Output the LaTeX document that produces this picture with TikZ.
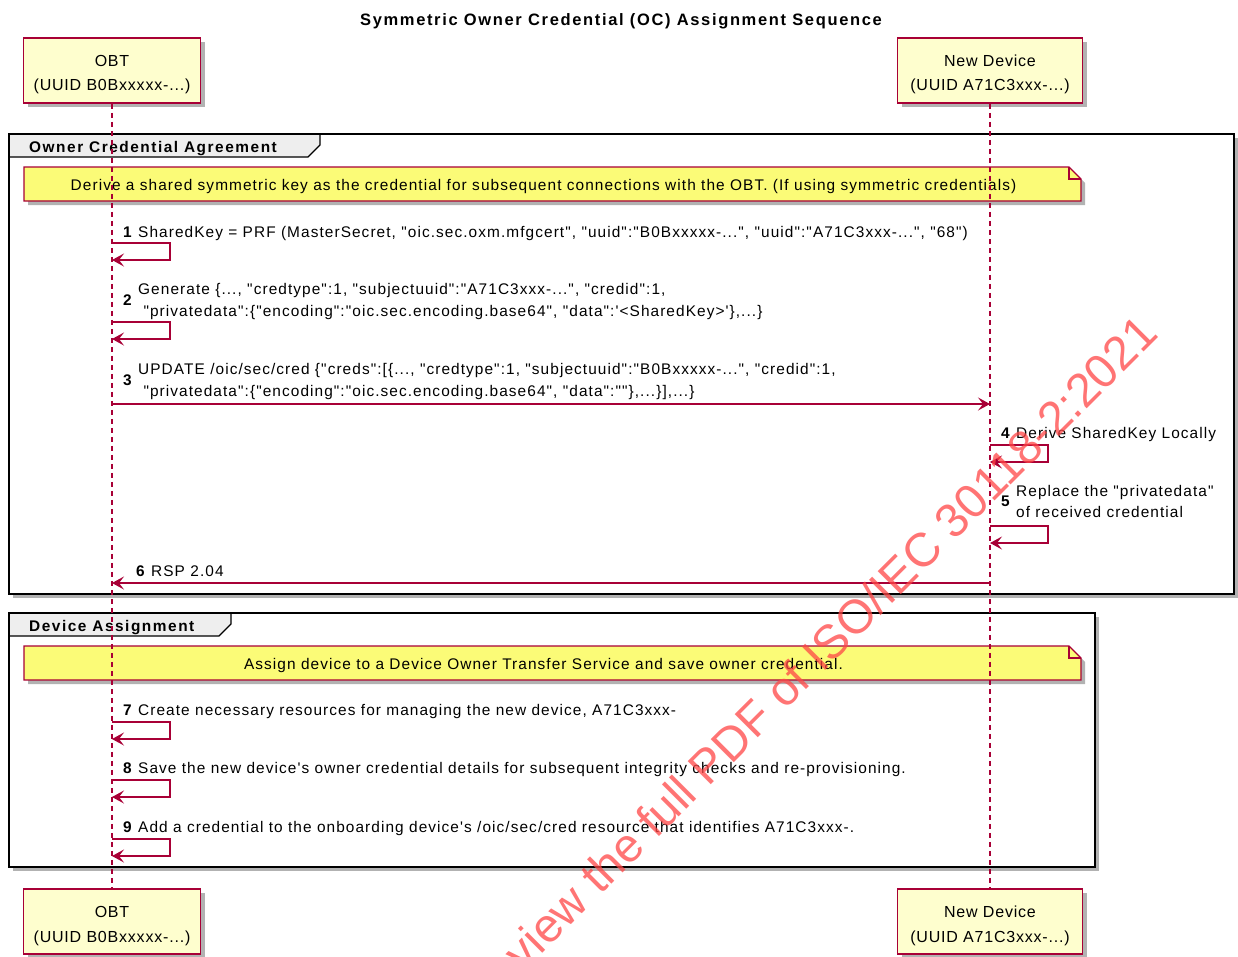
\documentclass[tikz,border=0pt]{standalone}
\usepackage{fontspec}
\setmainfont{Liberation Sans}[Ligatures=TeXOff, LetterSpace=7, BoldFeatures={LetterSpace=10}]
\newfontfamily\actorfont{Liberation Sans}[Ligatures=TeXOff, LetterSpace=5]
\newfontfamily\wmfont{Liberation Sans}[Ligatures=TeXOff]
\usetikzlibrary{arrows.meta,shadows}
\definecolor{pumlred}{HTML}{A80036}
\definecolor{actorfill}{HTML}{FEFECE}
\definecolor{notefill}{HTML}{FBFB77}
\definecolor{tabfill}{HTML}{EEEEEE}
\definecolor{wmred}{RGB}{255,70,70}
\tikzset{
  pshadow/.style={drop shadow={shadow xshift=4pt, shadow yshift=-4pt, opacity=0.3, fill=black}},
  actor/.style={draw=pumlred, fill=actorfill, line width=1.5pt, minimum height=65pt,
    inner sep=0pt, pshadow},
  actortext/.style={align=center, inner sep=0pt, font=\actorfont\fontsize{16}{24.5}\selectfont},
  notebox/.style={draw=pumlred, fill=notefill, line width=1.1pt, pshadow},
  groupbox/.style={draw=black, line width=2.8pt, pshadow},
  grouptab/.style={draw=black, fill=tabfill, line width=1.2pt},
  lifeline/.style={draw=pumlred, line width=1.1pt, dash pattern=on 5pt off 4pt},
  msg/.style={draw=pumlred, line width=1.2pt, -{Stealth[length=12pt, width=13pt, inset=5pt]}},
  txt/.style={anchor=base west, inner sep=0pt, font=\fontsize{15.4}{21.5}\selectfont},
  num/.style={anchor=base west, inner sep=0pt, font=\bfseries\fontsize{15.4}{21.5}\selectfont},
  grouplabel/.style={anchor=base west, inner sep=0pt, font=\bfseries\fontsize{15.4}{18}\selectfont},
  notetext/.style={anchor=base, inner sep=0pt, font=\fontsize{15.4}{18}\selectfont},
}
\newcommand\selfloop[1]{\draw[msg] (#1) -- ++(58,0) -- ++(0,17) -- ++(-58,0);}
\begin{document}
\begin{tikzpicture}[x=1pt, y=-1pt]
\useasboundingbox (0,0) rectangle (1238,956);
\fill[white] (0,0) rectangle (1238,956);

% title
\node[anchor=base, inner sep=0pt, font=\bfseries\fontsize{16.5}{20}\selectfont] (title) at (621,25)
  {Symmetric Owner Credential (OC) Assignment Sequence};

% groups (frames)
\path[groupbox, fill=white] (9,134) rectangle (1234,594);
\path[groupbox, fill=white] (9,613) rectangle (1095,867);

% actors
\node[actor, minimum width=177pt] (obtTop) at (112,70.5) {};
\node[actortext] (obtTopT) at (112,74.5) {OBT\\(UUID B0Bxxxxx-...)};
\node[actor, minimum width=185pt] (devTop) at (990,70.5) {};
\node[actortext] (devTopT) at (990,74.5) {New Device\\(UUID A71C3xxx-...)};
\node[actor, minimum width=177pt] (obtBot) at (112,921.5) {};
\node[actortext] (obtBotT) at (112,926) {OBT\\(UUID B0Bxxxxx-...)};
\node[actor, minimum width=185pt] (devBot) at (990,921.5) {};
\node[actortext] (devBotT) at (990,926) {New Device\\(UUID A71C3xxx-...)};

% group tabs and labels
\path[grouptab] (9,134) -- (320,134) -- (320,145) -- (308,157) -- (9,157) -- cycle;
\node[grouplabel] (g1) at (29,152.5) {Owner Credential Agreement};
\path[grouptab] (9,613) -- (231,613) -- (231,624) -- (219,636) -- (9,636) -- cycle;
\node[grouplabel] (g2) at (29,631.5) {Device Assignment};
\draw[black, line width=2.8pt] (9,134) rectangle (1234,594);
\draw[black, line width=2.8pt] (9,613) rectangle (1095,867);

% notes
\path[notebox] (24,167) -- (1069,167) -- (1081,179) -- (1081,201) -- (24,201) -- cycle;
\draw[pumlred, line width=1.1pt] (1069,167) -- (1069,179) -- (1081,179);
\node[notetext] (note1) at (543.5,190.5)
  {Derive a shared symmetric key as the credential for subsequent connections with the OBT. (If using symmetric credentials)};
\path[notebox] (24,646) -- (1069,646) -- (1081,658) -- (1081,680) -- (24,680) -- cycle;
\draw[pumlred, line width=1.1pt] (1069,646) -- (1069,658) -- (1081,658);
\node[notetext] (note2) at (543.5,669.5)
  {Assign device to a Device Owner Transfer Service and save owner credential.};

% lifelines
\draw[lifeline] (obtTop.south) -- (obtBot.north);
\draw[lifeline] (devTop.south) -- (devBot.north);

% message 1
\node[num] (n1) at (123,237) {1};
\node[txt] (t1) at (138,237) {SharedKey = PRF (MasterSecret, "oic.sec.oxm.mfgcert", "uuid":"B0Bxxxxx-...", "uuid":"A71C3xxx-...", "68")};
\coordinate (s1) at (112,243);
\selfloop{s1}

% message 2
\node[num] (n2) at (123,305.5) {2};
\node[txt] (t2a) at (138,294.5) {Generate \{..., "credtype":1, "subjectuuid":"A71C3xxx-...", "credid":1,};
\node[txt] (t2b) at (138,316.5) {\ "privatedata":\{"encoding":"oic.sec.encoding.base64", "data":'<SharedKey>'\},...\}};
\coordinate (s2) at (112,322);
\selfloop{s2}

% message 3
\node[num] (n3) at (123,385.5) {3};
\node[txt] (t3a) at (138,374.5) {UPDATE /oic/sec/cred \{"creds":[\{..., "credtype":1, "subjectuuid":"B0Bxxxxx-...", "credid":1,};
\node[txt] (t3b) at (138,396.5) {\ "privatedata":\{"encoding":"oic.sec.encoding.base64", "data":""\},...\}],...\}};
\coordinate (m3a) at (112,404);
\coordinate (m3b) at (990,404);
\draw[msg] (m3a) -- (m3b);

% message 4
\node[num] (n4) at (1001,438.5) {4};
\node[txt] (t4) at (1016,438.5) {Derive SharedKey Locally};
\coordinate (s4) at (990,445);
\selfloop{s4}

% message 5
\node[num] (n5) at (1001,506.5) {5};
\node[txt] (t5a) at (1016,496.5) {Replace the "privatedata"};
\node[txt] (t5b) at (1016,517.5) {of received credential};
\coordinate (s5) at (990,526);
\selfloop{s5}

% message 6
\node[num] (n6) at (136,576.5) {6};
\node[txt] (t6) at (151,576.5) {RSP 2.04};
\coordinate (m6a) at (990,583);
\coordinate (m6b) at (112,583);
\draw[msg] (m6a) -- (m6b);

% message 7
\node[num] (n7) at (123,715.5) {7};
\node[txt] (t7) at (138,715.5) {Create necessary resources for managing the new device, A71C3xxx-};
\coordinate (s7) at (112,722);
\selfloop{s7}

% message 8
\node[num] (n8) at (123,773.5) {8};
\node[txt] (t8) at (138,773.5) {Save the new device's owner credential details for subsequent integrity checks and re-provisioning.};
\coordinate (s8) at (112,780);
\selfloop{s8}

% message 9
\node[num] (n9) at (123,832.5) {9};
\node[txt] (t9) at (138,832.5) {Add a credential to the onboarding device's /oic/sec/cred resource that identifies A71C3xxx-.};
\coordinate (s9) at (112,839);
\selfloop{s9}

% watermark
\begin{scope}
\clip (0,0) rectangle (1238,956);
\node[rotate=45, anchor=base east, inner sep=0pt, text=wmred, opacity=0.75,
  font=\wmfont\fontsize{47.5}{48}\selectfont] (wm) at (1160,336)
  {Click to view the full PDF of ISO/IEC 30118-2:2021};
\end{scope}
\end{tikzpicture}
\end{document}
